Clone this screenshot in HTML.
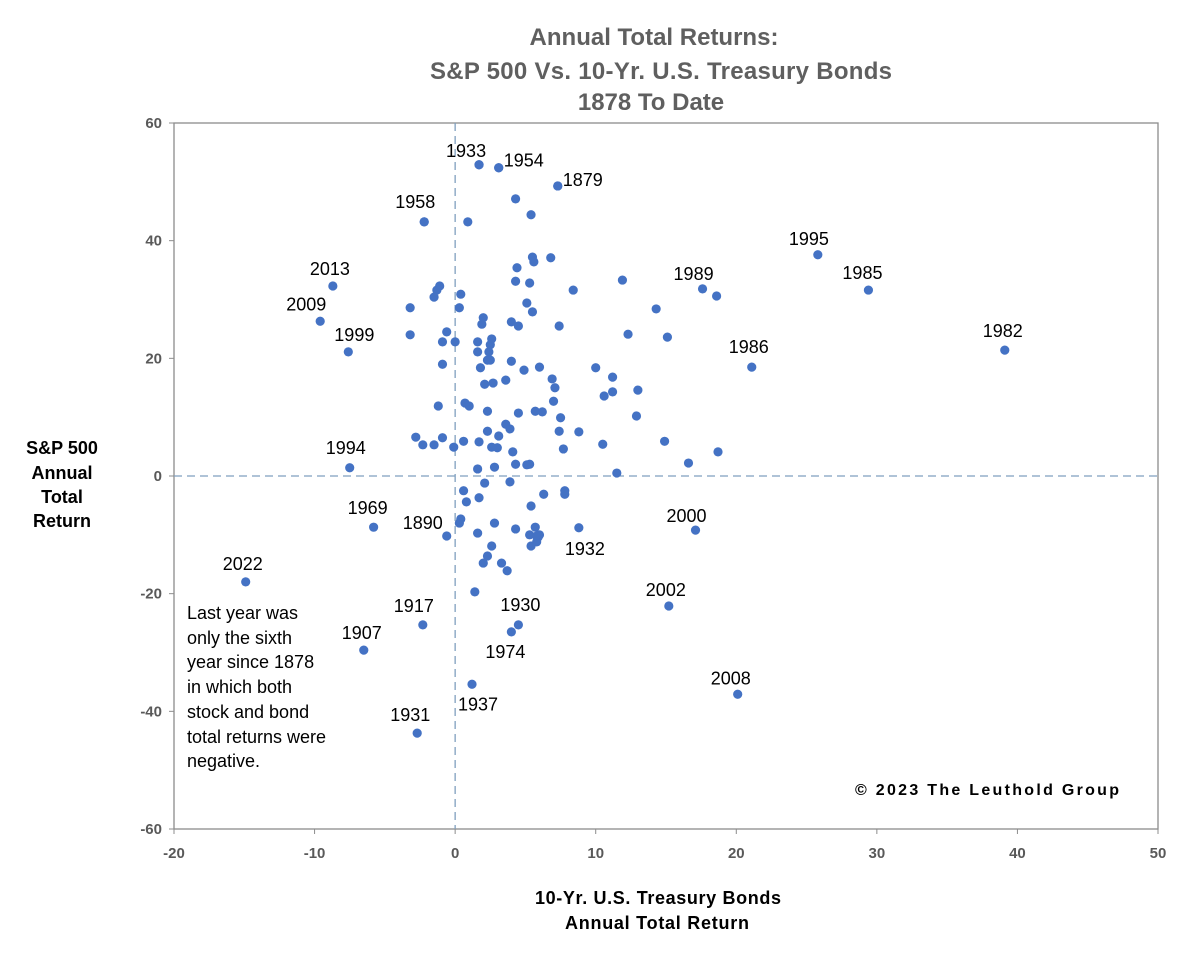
<!DOCTYPE html>
<html><head><meta charset="utf-8"><style>
body{margin:0;background:#fff}
svg text{font-family:"Liberation Sans",Arial,sans-serif}
</style></head><body>
<svg id="chart" width="1200" height="959" xmlns="http://www.w3.org/2000/svg">
<g font-weight="bold" font-size="24" fill="#5f5f5f" text-anchor="middle">
<text x="654" y="45">Annual Total Returns:</text>
<text x="661" y="79" textLength="462">S&amp;P 500 Vs. 10-Yr. U.S. Treasury Bonds</text>
<text x="651" y="110">1878 To Date</text>
</g>
<g id="axes"></g>
<g id="points"></g>
<g id="labels"></g>
<g font-weight="bold" font-size="18" fill="#000" text-anchor="middle">
<text x="62" y="454">S&amp;P 500</text>
<text x="62" y="479">Annual</text>
<text x="62" y="503">Total</text>
<text x="62" y="527">Return</text>
</g>
<g font-weight="bold" font-size="18" fill="#000" text-anchor="middle">
<text x="658" y="904" textLength="246">10-Yr. U.S. Treasury Bonds</text>
<text x="657" y="929" textLength="184">Annual Total Return</text>
</g>
<g font-size="18" fill="#000">
<text x="187" y="619">Last year was</text>
<text x="187" y="644">only the sixth</text>
<text x="187" y="668">year since 1878</text>
<text x="187" y="693">in which both</text>
<text x="187" y="718">stock and bond</text>
<text x="187" y="743">total returns were</text>
<text x="187" y="767">negative.</text>
</g>
<text x="855" y="795" textLength="264" font-weight="bold" font-size="16" fill="#000">© 2023 The Leuthold Group</text>
</svg>
<script>
const xTicks=[-20,-10,0,10,20,30,40,50];
const yTicks=[60,40,20,0,-20,-40,-60];
const bondReturns=[1.7,3.1,7.3,4.3,-2.2,0.9,5.4,5.5,5.6,6.8,4.4,4.3,5.3,11.9,-1.1,-1.3,-1.5,0.4,8.4,-3.2,0.3,5.1,5.5,14.3,2.0,1.9,4.0,4.5,7.4,12.3,15.1,-3.2,-0.6,-0.9,0.0,1.6,1.6,2.6,2.5,2.4,2.3,2.5,1.8,-0.9,4.0,4.9,6.0,10.0,11.2,6.9,7.1,10.6,11.2,13.0,3.6,2.1,2.7,7.0,12.9,-1.2,0.7,1.0,2.3,4.5,5.7,6.2,7.5,3.6,3.9,2.3,3.1,7.4,8.8,-2.8,-2.3,-1.5,-0.9,-0.1,0.6,1.7,2.6,3.0,4.1,7.7,10.5,14.9,1.6,2.8,4.3,5.1,5.3,11.5,3.9,2.1,0.6,0.8,1.7,6.3,7.8,7.8,5.4,0.4,0.3,2.8,4.3,1.6,5.7,5.3,5.8,5.9,6.0,5.4,5.8,2.6,2.3,2.0,3.3,3.7,1.4,18.6,16.6,18.7];
const stockReturns=[52.9,52.4,49.3,47.1,43.2,43.2,44.4,37.2,36.4,37.1,35.4,33.1,32.8,33.3,32.3,31.6,30.4,30.9,31.6,28.6,28.6,29.4,27.9,28.4,26.9,25.8,26.2,25.5,25.5,24.1,23.6,24.0,24.5,22.8,22.8,22.8,21.1,23.3,22.3,21.1,19.7,19.7,18.4,19.0,19.5,18.0,18.5,18.4,16.8,16.5,15.0,13.6,14.3,14.6,16.3,15.6,15.8,12.7,10.2,11.9,12.4,11.9,11.0,10.7,11.0,10.9,9.9,8.8,8.0,7.6,6.8,7.6,7.5,6.6,5.3,5.3,6.5,4.9,5.9,5.8,4.9,4.8,4.1,4.6,5.4,5.9,1.2,1.5,2.0,1.9,2.0,0.5,-1.0,-1.2,-2.5,-4.4,-3.7,-3.1,-2.5,-3.1,-5.1,-7.3,-8.0,-8.0,-9.0,-9.7,-8.7,-10.0,-10.2,-10.4,-10.0,-11.9,-11.2,-11.9,-13.6,-14.8,-14.8,-16.1,-19.7,30.6,2.2,4.1];
const labelYears=["1933","1954","1879","1958","2013","2009","1999","1995","1985","1989","1982","1986","1994","1969","1890","1932","2000","2022","2002","1917","1930","1974","1907","1937","2008","1931"];
const labelBond=[1.7,3.1,7.3,-2.2,-8.7,-9.6,-7.6,25.8,29.4,17.6,39.1,21.1,-7.5,-5.8,-0.6,8.8,17.1,-14.9,15.2,-2.3,4.5,4.0,-6.5,1.2,20.1,-2.7];
const labelStock=[52.9,52.4,49.3,43.2,32.3,26.3,21.1,37.6,31.6,31.8,21.4,18.5,1.4,-8.7,-10.2,-8.8,-9.2,-18.0,-22.1,-25.3,-25.3,-26.5,-29.6,-35.4,-37.1,-43.7];
const labelDx=[-33,5,5,-29,-23,-34,-14,-29,-26,-29,-22,-23,-24,-26,-44,-14,-29,-23,-23,-29,-18,-26,-22,-14,-27,-27];
const labelDy=[-8,-1,0,-14,-11,-11,-11,-10,-11,-9,-13,-14,-14,-13,-7,27,-8,-12,-10,-13,-14,26,-11,26,-10,-12];

const L=174,R=1158,T=123,B=829;
const xs=v=>L+(v+20)/70*(R-L);
const ys=v=>B-(v+60)/120*(B-T);
const NS="http://www.w3.org/2000/svg";
function mk(tag,attrs,parent){const e=document.createElementNS(NS,tag);for(const k in attrs)e.setAttribute(k,attrs[k]);parent.appendChild(e);return e;}
const ax=document.getElementById('axes');
let r=mk('rect',{x:L,y:T,width:R-L,height:B-T,fill:'none',stroke:'#8c8c8c','stroke-width':1.3},ax);


let zx=mk('line',{x1:xs(0),x2:xs(0),y1:T,y2:B,stroke:'#7f9fbf','stroke-width':1.3,'stroke-dasharray':'8,5'},ax);


let zy=mk('line',{x1:L,x2:R,y1:ys(0),y2:ys(0),stroke:'#7f9fbf','stroke-width':1.3,'stroke-dasharray':'8,5'},ax);


xTicks.forEach(t=>{
  mk('line',{x1:xs(t),x2:xs(t),y1:B,y2:B+5,stroke:'#8c8c8c'},ax);
  const tx=mk('text',{x:xs(t),y:B+29,'text-anchor':'middle','font-size':15,'font-weight':'bold',fill:'#595959'},ax);
  tx.textContent=t;
  
  
});
yTicks.forEach(t=>{
  mk('line',{x1:L-5,x2:L,y1:ys(t),y2:ys(t),stroke:'#8c8c8c'},ax);
  const tx=mk('text',{x:L-12,y:ys(t)+5,'text-anchor':'end','font-size':15,'font-weight':'bold',fill:'#595959'},ax);
  tx.textContent=t;
  
  
});
const pg=document.getElementById('points');
bondReturns.forEach((b,i)=>{
  const c=mk('circle',{cx:xs(b),cy:ys(stockReturns[i]),r:4.6,fill:'#4472c4'},pg);
  
  
});
const lg=document.getElementById('labels');
labelYears.forEach((y,i)=>{
  const px=xs(labelBond[i]),py=ys(labelStock[i]);
  const c=mk('circle',{cx:px,cy:py,r:4.6,fill:'#4472c4'},pg);
  
  
  const t=mk('text',{x:px+labelDx[i],y:py+labelDy[i],'font-size':18,fill:'#000'},lg);
  t.textContent=y;
  
  
});
</script>
</body></html>
